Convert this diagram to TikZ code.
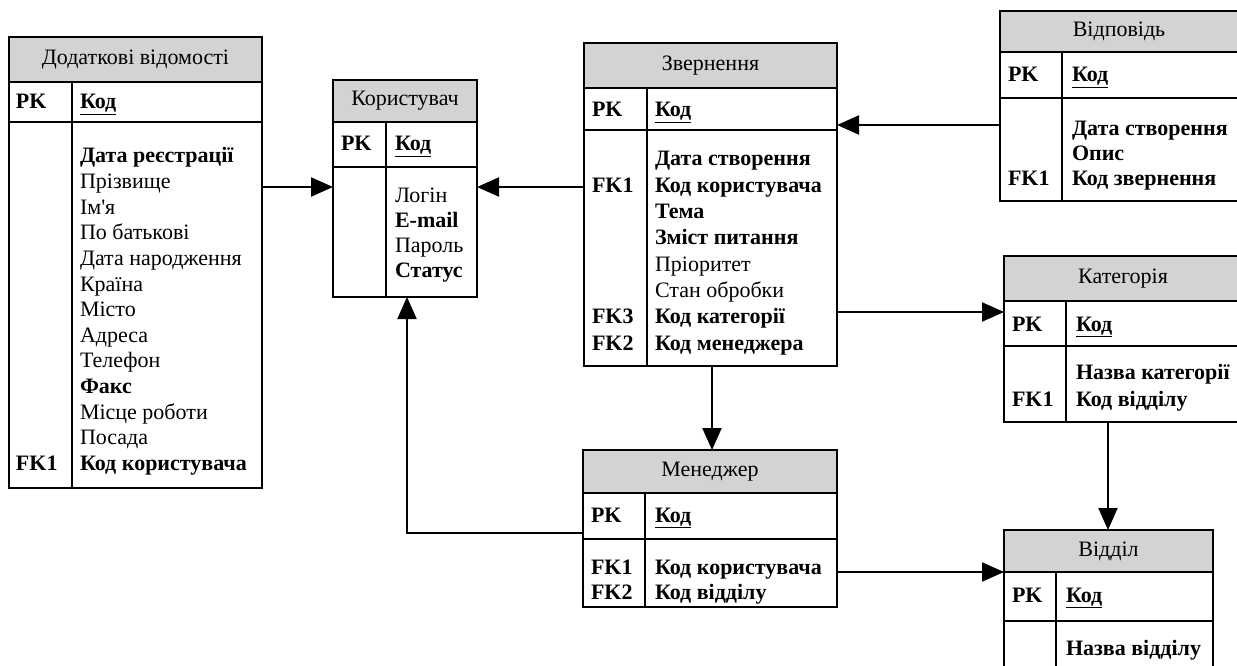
\documentclass[tikz,border=0pt]{standalone}
\usepackage{fontspec}
\setmainfont{Liberation Serif}
\newfontfamily\noligs{Liberation Serif}[Ligatures=TeXOff]
\usetikzlibrary{arrows.meta}
\definecolor{hdrgray}{RGB}{211,211,211}
\newcommand\fs{\fontsize{22}{25}\selectfont}
\tikzset{
  box/.style={draw, line width=1.8pt, rectangle, inner sep=0pt, outer sep=0pt},
  hdr/.style={box, fill=hdrgray, font=\fs},
  txt/.style={anchor=base west, inner sep=0pt, outer sep=0pt, font=\fs},
  colline/.style={line width=1.8pt},
  conn/.style={line width=2.2pt, -{Triangle[length=22pt,width=19pt]}},
}
% #1 name, #2 left, #3 top, #4 right, #5 header bottom, #6 pk bottom, #7 bottom, #8 column x, #9 title
\newcommand\erdtable[9]{%
  \node[hdr, minimum width={#4pt-#2pt}, minimum height={#5pt-#3pt}, anchor=north west] (#1-h) at (#2,#3) {#9};
  \node[box, minimum width={#4pt-#2pt}, minimum height={#6pt-#5pt}, anchor=north west] (#1-k) at (#2,#5) {};
  \node[box, minimum width={#4pt-#2pt}, minimum height={#7pt-#6pt}, anchor=north west] (#1-b) at (#2,#6) {};
  \draw[colline] (#8,#5) -- (#8,#7);
}
% #1 name, #2 x, #3 first baseline, #4 step, #5 list
\newcommand\erdrows[5]{%
  \foreach \t [count=\i] in {#5} {
    \node[txt] (#1-r\i) at (#2,{#3+(\i-1)*#4}) {\t};
  }
}
\newcommand\kod{\underline{\textbf{Код}}}
\begin{document}
\begin{tikzpicture}[x=1pt,y=-1pt]
\useasboundingbox (0,0) rectangle (1237,666);
\clip (0,0) rectangle (1237,666);

% Додаткові відомості
\erdtable{dod}{9}{37}{262}{82}{122}{488}{72}{Додаткові відомості}
\node[txt] (dod-pk) at (16,109) {\textbf{PK}};
\node[txt] (dod-pkv) at (80,109) {\kod};
\erdrows{dod}{80}{163}{25.6}{\textbf{Дата реєстрації}, Прізвище, Ім{\noligs'}я, По батькові, Дата народження, Країна, Місто, Адреса, Телефон, \textbf{Факс}, Місце роботи, Посада, \textbf{Код користувача}}
\node[txt] (dod-fk1) at (16,470.2) {\textbf{FK1}};

% Користувач
\erdtable{usr}{333}{80}{477}{122}{167}{297}{386}{Користувач}
\node[txt] (usr-pk) at (341,151) {\textbf{PK}};
\node[txt] (usr-pkv) at (395,151) {\kod};
\erdrows{usr}{395}{202}{25.2}{Логін, \textbf{E-mail}, Пароль, \textbf{Статус}}

% Звернення
\erdtable{zv}{584}{43}{837}{88}{130}{366}{647}{Звернення}
\node[txt] (zv-pk) at (592,117) {\textbf{PK}};
\node[txt] (zv-pkv) at (655,117) {\kod};
\erdrows{zv}{655}{166}{26.3}{\textbf{Дата створення}, \textbf{Код користувача}, \textbf{Тема}, \textbf{Зміст питання}, Пріоритет, Стан обробки, \textbf{Код категорії}, \textbf{Код менеджера}}
\node[txt] (zv-fk1) at (592,192.3) {\textbf{FK1}};
\node[txt] (zv-fk3) at (592,323.8) {\textbf{FK3}};
\node[txt] (zv-fk2) at (592,350.1) {\textbf{FK2}};

% Відповідь
\erdtable{vid}{1000}{11}{1238}{52}{98}{201}{1062}{Відповідь}
\node[txt] (vid-pk) at (1008,82) {\textbf{PK}};
\node[txt] (vid-pkv) at (1072,82) {\kod};
\erdrows{vid}{1072}{136}{24.8}{\textbf{Дата створення}, \textbf{Опис}, \textbf{Код звернення}}
\node[txt] (vid-fk1) at (1008,185.6) {\textbf{FK1}};

% Категорія
\erdtable{kat}{1004}{256}{1242}{301}{346}{422}{1066}{Категорія}
\node[txt] (kat-pk) at (1012,331) {\textbf{PK}};
\node[txt] (kat-pkv) at (1076,331) {\kod};
\erdrows{kat}{1076}{379}{27}{\textbf{Назва категорії}, \textbf{Код відділу}}
\node[txt] (kat-fk1) at (1012,406) {\textbf{FK1}};

% Менеджер
\erdtable{men}{583}{450}{837}{493}{539}{607}{645}{Менеджер}
\node[txt] (men-pk) at (591,522) {\textbf{PK}};
\node[txt] (men-pkv) at (655,522) {\kod};
\erdrows{men}{655}{574}{25}{\textbf{Код користувача}, \textbf{Код відділу}}
\node[txt] (men-fk1) at (591,574) {\textbf{FK1}};
\node[txt] (men-fk2) at (591,599) {\textbf{FK2}};

% Відділ
\erdtable{vdl}{1004}{530}{1213}{572}{621}{690}{1056}{Відділ}
\node[txt] (vdl-pk) at (1012,602) {\textbf{PK}};
\node[txt] (vdl-pkv) at (1066,602) {\kod};
\erdrows{vdl}{1066}{655}{25}{\textbf{Назва відділу}}

% connector levels
\coordinate (yA) at (0,187);
\coordinate (yB) at (0,125);
\coordinate (yC) at (0,312);
\coordinate (yD) at (0,533);
\coordinate (yE) at (0,572);
\coordinate (xF) at (407,0);
\coordinate (xG) at (712,0);
\coordinate (xH) at (1108,0);

\draw[conn] (dod-b.east |- yA) -- (usr-b.west |- yA);
\draw[conn] (zv-b.west |- yA) -- (usr-b.east |- yA);
\draw[conn] (vid-b.west |- yB) -- (zv-k.east |- yB);
\draw[conn] (zv-b.east |- yC) -- (kat-k.west |- yC);
\draw[conn] (zv-b.south -| xG) -- (men-h.north -| xG);
\draw[conn] (men-b.west |- yD) -| (usr-b.south -| xF);
\draw[conn] (men-b.east |- yE) -- (vdl-h.west |- yE);
\draw[conn] (kat-b.south -| xH) -- (vdl-h.north -| xH);
\end{tikzpicture}
\end{document}
